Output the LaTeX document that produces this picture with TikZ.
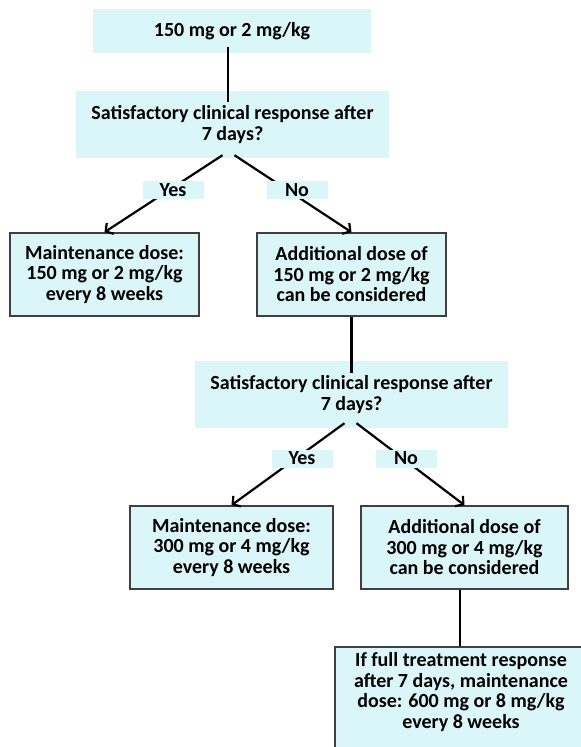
\documentclass[tikz,border=0pt]{standalone}
\usepackage{fontspec}
\setmainfont{Carlito}
\usetikzlibrary{arrows.meta}
\definecolor{boxfill}{HTML}{DAF6F8}
\definecolor{boxline}{HTML}{404040}
\tikzset{
  qbox/.style = {fill=boxfill, inner sep=0pt, align=center},
  dosebox/.style = {qbox, draw=boxline, line width=1.6pt, minimum height=83pt},
  lbl/.style = {fill=boxfill, inner sep=0pt, minimum width=61pt, minimum height=18pt},
  link/.style = {line width=2.2pt},
  flow/.style = {link, -{Straight Barb[length=5.5pt, width=13pt]}}
}

\begin{document}
\begin{tikzpicture}[x=1pt, y=-1pt,
    font=\fontsize{20pt}{20.5pt}\selectfont\bfseries]

  \useasboundingbox (0,0) rectangle (581,747);

  %% First step

  % Questions
  \node[qbox, minimum width=278pt, minimum height=44pt] (top) at (232,31) {150 mg or 2 mg/kg};
  \node[qbox, minimum width=313pt, minimum height=67pt] (q1) at (232.5,124.5)
    {Satisfactory clinical response after\\7 days?};

  % Outcomes
  \node[dosebox, minimum width=189pt] (maint1) at (104.5,274.5)
    {Maintenance dose:\\150 mg or 2 mg/kg\\every 8 weeks};
  \node[dosebox, minimum width=189pt] (add1) at (351.5,274.5)
    {Additional dose of\\150 mg or 2 mg/kg\\can be considered};

  % Links
  \draw[link, shorten <=-6pt, shorten >=-11pt] ([xshift=-4pt]top.south) -- ([xshift=-4pt]top.south |- q1.north);
  \draw[flow] ([xshift=-10pt, yshift=3pt]q1.south) -- (maint1.north);
  \draw[flow] ([xshift=2pt, yshift=3pt]q1.south) -- (add1.north);
  \node[lbl] (yes1) at (173,190) {Yes};
  \node[lbl] (no1) at (297,190) {No};

  %% Second step

  \node[qbox, minimum width=313pt, minimum height=67pt] (q2) at (351.5,394.5)
    {Satisfactory clinical response after\\7 days?};
  \node[dosebox, minimum width=203pt] (maint2) at (231.5,547.5)
    {Maintenance dose:\\300 mg or 4 mg/kg\\every 8 weeks};
  \node[dosebox, minimum width=207pt] (add2) at (464.5,547.5)
    {Additional dose of\\300 mg or 4 mg/kg\\can be considered};

  \draw[link, shorten >=-12pt] (add1.south) -- (q2.north);
  \draw[flow] ([xshift=-7pt, yshift=5pt]q2.south) -- (maint2.north);
  \draw[flow] ([xshift=5pt, yshift=5pt]q2.south) -- (add2.north);
  \node[lbl] (yes2) at (302,458.5) {Yes};
  \node[lbl] (no2) at (406,458.5) {No};

  %% Last step

  \node[dosebox, minimum width=252pt, minimum height=0pt, inner ysep=6pt, anchor=north] (full) at (461,646)
    {If full treatment response\\after 7 days, maintenance\\dose: 600 mg or 8 mg/kg\\every 8 weeks\\\mbox{}};
  \draw[link] ([xshift=-4.5pt]add2.south) -- ([xshift=-4.5pt]add2.south |- full.north);

\end{tikzpicture}
\end{document}
